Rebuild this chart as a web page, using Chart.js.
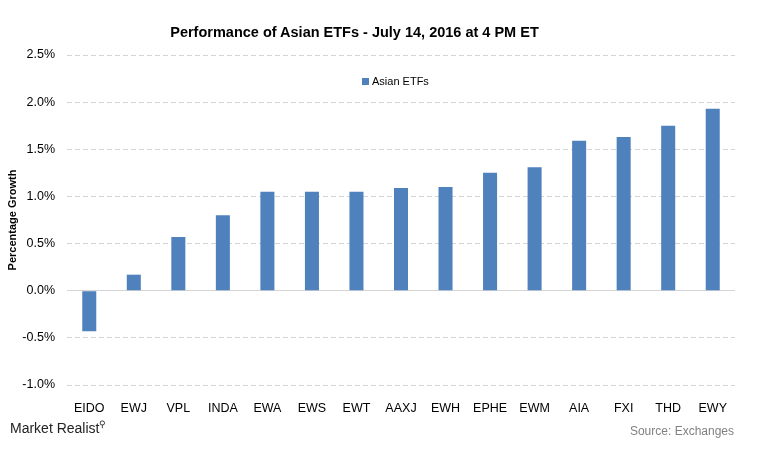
<!DOCTYPE html>
<html>
<head>
<meta charset="utf-8">
<script src="https://cdn.jsdelivr.net/npm/chart.js@4/dist/chart.umd.min.js"></script>
<style>
  body { margin: 0; background: #fff; font-family: "Liberation Sans", Arial, sans-serif; }
  #wrap { position: relative; width: 763px; height: 450px; }
  #title { position: absolute; left: 0; width: 709px; top: 24px; text-align: center; font-weight: bold; font-size: 14.5px; color: #000; }
  #legend { position: absolute; left: 362px; top: 75px; font-size: 11px; color: #000; }
  #legend span.box { display: inline-block; width: 7px; height: 7px; background: #4f81bd; margin-right: 3px; }
  #brand { position: absolute; left: 10px; top: 419px; font-family: "Liberation Sans Narrow", "Liberation Sans", sans-serif; font-size: 14px; color: #222; }
  #brand sup { font-size: 9px; }
  #source { position: absolute; right: 29px; top: 424px; font-size: 12px; color: #808080; }
</style>
</head>
<body>
<div id="wrap">
  <canvas id="chart" width="763" height="450"></canvas>
  <div id="title">Performance of Asian ETFs - July 14, 2016 at 4 PM ET</div>
  <div id="legend"><span class="box"></span>Asian ETFs</div>
  <div id="brand">Market Realist<sup>&#9906;</sup></div>
  <div id="source">Source: Exchanges</div>
</div>
<script>
// data (percent)
var tickers = ["EIDO", "EWJ", "VPL", "INDA", "EWA", "EWS", "EWT", "AAXJ", "EWH", "EPHE", "EWM", "AIA", "FXI", "THD", "EWY"];
var growth = [-0.43, 0.17, 0.57, 0.80, 1.05, 1.05, 1.05, 1.09, 1.10, 1.25, 1.31, 1.59, 1.63, 1.75, 1.93];

Chart.defaults.font.family = '"Liberation Sans", Arial, sans-serif';

var ctx = document.getElementById("chart").getContext('2d');
var etfChart = new Chart(ctx, {
    type: 'bar',
    data: {
        labels: tickers,
        datasets: [{
            label: 'Asian ETFs',
            data: growth,
            backgroundColor: '#4f81bd',
            borderWidth: 0,
            barPercentage: 0.315,
            categoryPercentage: 1
        }]
    },
    options: {
        responsive: false,
        animation: false,
        layout: { padding: { left: 6, right: 28, top: 55, bottom: 35 } },
        plugins: {
            legend: { display: false },
            title: { display: false },
            tooltip: { enabled: false }
        },
        scales: {
            x: {
                grid: { display: false },
                border: { display: false },
                ticks: { color: '#000', font: { size: 12.5 }, padding: 8, maxRotation: 0, autoSkip: false },
                afterFit: function(scale) { scale.height = 30; }
            },
            y: {
                min: -1,
                max: 2.5,
                ticks: {
                    stepSize: 0.5,
                    color: '#000',
                    font: { size: 12.5 },
                    padding: 12,
                    callback: function(v) { return v.toFixed(1) + '%'; }
                },
                grid: {
                    drawTicks: false,
                    color: '#d4d4d4',
                    lineWidth: 1
                },
                border: {
                    display: false,
                    dash: function(c) { return c.tick && c.tick.value === 0 ? [] : [5, 3]; }
                },
                title: {
                    display: true,
                    text: 'Percentage Growth',
                    color: '#000',
                    font: { size: 11, weight: 'bold' },
                    padding: 0
                },
                afterFit: function(scale) { scale.width = 61; }
            }
        }
    }
});
</script>
</body>
</html>
